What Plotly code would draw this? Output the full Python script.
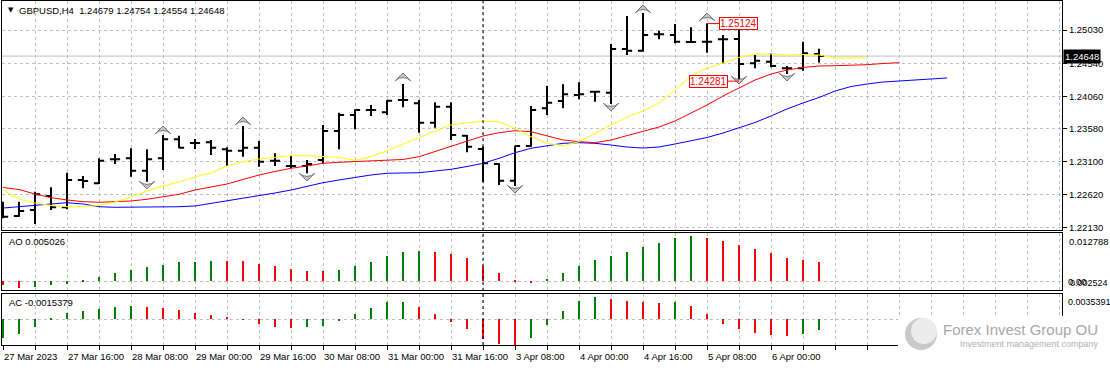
import plotly.graph_objects as go
from plotly.subplots import make_subplots

# ---------------- data ----------------
symbol_title = "GBPUSD,H4"
last_ohlc_text = ["1.24679", "1.24754", "1.24554", "1.24648"]
last_price = 1.24648

bar_open = [1.22393, 1.22305, 1.22393, 1.22598, 1.22433, 1.22832, 1.22784, 1.23136, 1.23150, 1.22969,
            1.23150, 1.23429, 1.23375, 1.23385, 1.23282, 1.23262, 1.23306, 1.23115, 1.23038, 1.23038,
            1.23125, 1.23550, 1.23785, 1.23858, 1.23824, 1.24004, 1.23956, 1.23672, 1.23906, 1.23482,
            1.23287, 1.23067, 1.22822, 1.23331, 1.23883, 1.23990, 1.24078, 1.24126, 1.24111, 1.24752,
            1.24727, 1.24967, 1.24957, 1.24855, 1.24859, 1.24894, 1.24898, 1.24542, 1.24566, 1.24469,
            1.24469, 1.24679]
bar_high = [1.22515, 1.22515, 1.22661, 1.22726, 1.22939, 1.22891, 1.23150, 1.23213, 1.23297, 1.23282,
            1.23492, 1.23480, 1.23433, 1.23418, 1.23312, 1.23624, 1.23404, 1.23224, 1.23184, 1.23125,
            1.23638, 1.23818, 1.23868, 1.23931, 1.24000, 1.24239, 1.24004, 1.23971, 1.23971, 1.23492,
            1.23320, 1.23077, 1.23335, 1.23917, 1.24210, 1.24235, 1.24264, 1.24141, 1.24825, 1.25235,
            1.25279, 1.25020, 1.25118, 1.25070, 1.25124, 1.24957, 1.25070, 1.24664, 1.24689, 1.24503,
            1.24859, 1.24754]
bar_low = [1.22271, 1.22295, 1.22188, 1.22393, 1.22403, 1.22711, 1.22774, 1.23067, 1.22881, 1.22808,
           1.22979, 1.23297, 1.23287, 1.23199, 1.23038, 1.23174, 1.23027, 1.23038, 1.23004, 1.22931,
           1.23077, 1.23282, 1.23575, 1.23770, 1.23785, 1.23898, 1.23525, 1.23599, 1.23418, 1.23238,
           1.22808, 1.22759, 1.22745, 1.23320, 1.23785, 1.23883, 1.24015, 1.23980, 1.23946, 1.24664,
           1.24712, 1.24894, 1.24835, 1.24845, 1.24697, 1.24542, 1.24281, 1.24469, 1.24484, 1.24385,
           1.24434, 1.24554]
bar_close = [1.22295, 1.22378, 1.22623, 1.22433, 1.22832, 1.22818, 1.23115, 1.23136, 1.22969, 1.23136,
             1.23429, 1.23306, 1.23375, 1.23306, 1.23262, 1.23306, 1.23101, 1.23115, 1.23038, 1.23067,
             1.23550, 1.23785, 1.23858, 1.23858, 1.23994, 1.24004, 1.23672, 1.23906, 1.23492, 1.23320,
             1.23077, 1.22822, 1.23331, 1.23858, 1.23965, 1.24088, 1.24088, 1.24126, 1.24752, 1.24727,
             1.24957, 1.24967, 1.24859, 1.24855, 1.24859, 1.24894, 1.24532, 1.24580, 1.24503, 1.24469,
             1.24689, 1.24648]

# Alligator lines (shifted forward, so longer than the price series)
alligator_lips = [1.22686, 1.22554, 1.22496, 1.22459, 1.22441, 1.22444, 1.22459, 1.22510, 1.22583, 1.22671,
                  1.22745, 1.22803, 1.22877, 1.22935, 1.23038, 1.23101, 1.23140, 1.23165, 1.23189, 1.23189,
                  1.23174, 1.23165, 1.23120, 1.23174, 1.23262, 1.23360, 1.23448, 1.23550, 1.23638, 1.23672,
                  1.23692, 1.23687, 1.23590, 1.23467, 1.23370, 1.23335, 1.23394, 1.23521, 1.23638, 1.23755,
                  1.23843, 1.23961, 1.24151, 1.24356, 1.24473, 1.24547, 1.24627, 1.24678, 1.24678, 1.24664,
                  1.24671, 1.24664, 1.24620, 1.24620, 1.24620]
alligator_teeth = [1.22723, 1.22693, 1.22627, 1.22573, 1.22540, 1.22515, 1.22506, 1.22515, 1.22525, 1.22550,
                   1.22588, 1.22623, 1.22686, 1.22730, 1.22774, 1.22840, 1.22906, 1.22957, 1.23004, 1.23038,
                   1.23077, 1.23092, 1.23101, 1.23108, 1.23115, 1.23133, 1.23174, 1.23250, 1.23320, 1.23397,
                   1.23477, 1.23525, 1.23555, 1.23540, 1.23477, 1.23419, 1.23394, 1.23379, 1.23419, 1.23484,
                   1.23550, 1.23609, 1.23697, 1.23814, 1.23931, 1.24063, 1.24180, 1.24297, 1.24385, 1.24444,
                   1.24481, 1.24503, 1.24507, 1.24513, 1.24522, 1.24539, 1.24551]
alligator_jaw = [1.22422, 1.22444, 1.22467, 1.22481, 1.22500, 1.22481, 1.22441, 1.22433, 1.22433, 1.22433,
                 1.22433, 1.22441, 1.22452, 1.22488, 1.22532, 1.22569, 1.22598, 1.22642, 1.22686, 1.22745,
                 1.22793, 1.22833, 1.22872, 1.22906, 1.22931, 1.22939, 1.22939, 1.22964, 1.22989, 1.23030,
                 1.23077, 1.23150, 1.23232, 1.23297, 1.23335, 1.23370, 1.23379, 1.23370, 1.23345, 1.23316,
                 1.23301, 1.23316, 1.23360, 1.23404, 1.23455, 1.23521, 1.23594, 1.23675, 1.23770, 1.23873,
                 1.23961, 1.24041, 1.24136, 1.24202, 1.24239, 1.24268, 1.24283, 1.24297, 1.24312, 1.24327]

# Fractals
fractal_up_idx = [10, 15, 25, 40, 44]
fractal_up_price = [1.23624, 1.23755, 1.24400, 1.25396, 1.25279]
fractal_dn_idx = [9, 19, 32, 38, 46, 49]
fractal_dn_price = [1.22701, 1.22818, 1.22642, 1.23843, 1.24239, 1.24283]

# price labels (high / low markers)
marker_label_idx = [44, 46]
marker_label_price = [1.25124, 1.24281]
marker_label_side = [1, -1]

# Awesome Oscillator
ao_values = [-0.0011, -0.0018, -0.0016, -0.0011, -0.0006, 0.0004, 0.00119, 0.00232, 0.00304, 0.00383,
             0.00436, 0.00515, 0.00523, 0.00549, 0.00545, 0.00541, 0.00470, 0.00417, 0.00338, 0.00285,
             0.00277, 0.00312, 0.00409, 0.00502, 0.00660, 0.00766, 0.00792, 0.00766, 0.00713, 0.00607,
             0.00396, 0.00211, 0.00026, -0.00044, 0.00053, 0.00211, 0.00396, 0.00554, 0.00660, 0.00766,
             0.00898, 0.01003, 0.01135, 0.01188, 0.01135, 0.01056, 0.00950, 0.00845, 0.00739, 0.00607,
             0.00554, 0.005026]
ao_first_up = False
# Accelerator Oscillator
ac_values = [-0.00269, -0.00212, -0.00103, 0.0001, 0.00089, 0.00118, 0.00146, 0.00174, 0.00188, 0.00174,
             0.00160, 0.00132, 0.00089, 0.00061, 0.00033, -0.00006, -0.00067, -0.00103, -0.00123, -0.00103,
             -0.00089, -0.00024, 0.00075, 0.00156, 0.00241, 0.00245, 0.00170, 0.00071, -0.00042, -0.00142,
             -0.00283, -0.00354, -0.00375, -0.00269, -0.00085, 0.00113, 0.00255, 0.00312, 0.00283, 0.00255,
             0.00241, 0.00227, 0.00241, 0.00184, 0.00071, -0.00071, -0.00142, -0.00198, -0.00227, -0.00241,
             -0.00212, -0.0015379]
ac_first_up = True

price_ticks = [1.22130, 1.22620, 1.23100, 1.23580, 1.24060, 1.24540, 1.25030]
ao_scale_labels = ["0.012788", "0.00", "0.002524"]
ac_scale_labels = ["0.0035391"]
ao_text = "AO 0.005026"
ac_text = "AC -0.0015379"

time_label_idx = [0, 4, 8, 12, 16, 20, 24, 28, 32, 36, 40, 44, 48]
time_labels = ["27 Mar 2023", "27 Mar 16:00", "28 Mar 08:00", "29 Mar 00:00", "29 Mar 16:00",
               "30 Mar 08:00", "31 Mar 00:00", "31 Mar 16:00", "3 Apr 08:00", "4 Apr 00:00",
               "4 Apr 16:00", "5 Apr 08:00", "6 Apr 00:00"]
week_start_idx = 30

# ---------------- figure ----------------
FONT = "Liberation Sans"
GREEN = "#008000"
RED = "#ff0000"

idx = list(range(len(bar_open)))


def osc_colors(vals, first_up):
    cols = [GREEN if first_up else RED]
    for i in range(1, len(vals)):
        cols.append(GREEN if vals[i] > vals[i - 1] else RED)
    return cols


fig = make_subplots(rows=3, cols=1, shared_xaxes=True, vertical_spacing=0.01)

fig.add_trace(go.Scatter(x=list(range(len(alligator_jaw))), y=alligator_jaw, mode="lines",
                         line=dict(color="#0000ff", width=1), hoverinfo="skip"), row=1, col=1)
fig.add_trace(go.Scatter(x=list(range(len(alligator_teeth))), y=alligator_teeth, mode="lines",
                         line=dict(color="#ff0000", width=1), hoverinfo="skip"), row=1, col=1)
fig.add_trace(go.Scatter(x=list(range(len(alligator_lips))), y=alligator_lips, mode="lines",
                         line=dict(color="#ffff00", width=1), hoverinfo="skip"), row=1, col=1)

fig.add_trace(go.Ohlc(x=idx, open=bar_open, high=bar_high, low=bar_low, close=bar_close,
                      increasing=dict(line=dict(color="black", width=2)),
                      decreasing=dict(line=dict(color="black", width=2)),
                      tickwidth=0.32, hoverinfo="skip"), row=1, col=1)

fig.add_trace(go.Scatter(x=fractal_up_idx, y=fractal_up_price, mode="markers",
                         marker=dict(symbol="arrow-wide", angle=0, size=11, color="#c4c4c4",
                                     line=dict(color="#6f7680", width=1)), hoverinfo="skip"), row=1, col=1)
fig.add_trace(go.Scatter(x=fractal_dn_idx, y=fractal_dn_price, mode="markers",
                         marker=dict(symbol="arrow-wide", angle=180, size=11, color="#c4c4c4",
                                     line=dict(color="#6f7680", width=1)), hoverinfo="skip"), row=1, col=1)

fig.add_trace(go.Bar(x=idx, y=ao_values, width=0.13,
                     marker=dict(color=osc_colors(ao_values, ao_first_up), line=dict(width=0)),
                     hoverinfo="skip"), row=2, col=1)
fig.add_trace(go.Bar(x=idx, y=ac_values, width=0.13,
                     marker=dict(color=osc_colors(ac_values, ac_first_up), line=dict(width=0)),
                     hoverinfo="skip"), row=3, col=1)

# plot-area pixel geometry
W, H = 1110, 368
PL, PR, PT, PB = 2, 1062, 1, 345


def px_x(px):
    return (px - PL) / (PR - PL)


def px_y(py):
    return (PB - py) / (PB - PT)


fig.update_layout(
    width=W, height=H,
    margin=dict(l=PL, r=W - PR, t=PT, b=H - PB),
    paper_bgcolor="white", plot_bgcolor="white",
    showlegend=False, bargap=0,
    font=dict(family=FONT, size=9.5, color="black"),
)

x_range = [(PL - 3) / 16, (PR - 3) / 16]
grid_vals = list(range(0, 68, 2))
for name in ["xaxis", "xaxis2", "xaxis3"]:
    fig.layout[name].update(range=x_range, tickmode="array", tickvals=grid_vals, showticklabels=False,
                            showgrid=True, gridcolor="#c0c0c0", griddash="3px,3px", gridwidth=1,
                            showline=True, mirror=True, linecolor="black", linewidth=1,
                            zeroline=False, ticks="", rangeslider=dict(visible=False))
fig.layout.xaxis3.update(ticks="outside", ticklen=4, tickcolor="black", tickwidth=1)

fig.layout.yaxis.update(domain=[px_y(230), 1.0], range=[1.22100, 1.25455], side="right",
                        tickmode="array", tickvals=price_ticks, tickformat=".5f",
                        ticks="outside", ticklen=4, tickcolor="black",
                        showgrid=True, gridcolor="#c0c0c0", griddash="3px,3px",
                        showline=True, mirror=True, linecolor="black", zeroline=False,
                        tickfont=dict(family=FONT, size=9.5))
fig.layout.yaxis2.update(domain=[px_y(290), px_y(233)], range=[-0.0023, 0.01278], side="right",
                         tickmode="array", tickvals=[0], showticklabels=False, ticks="",
                         showgrid=True, gridcolor="#c0c0c0", griddash="3px,3px",
                         showline=True, mirror=True, linecolor="black", zeroline=False)
fig.layout.yaxis3.update(domain=[0.0, px_y(294)], range=[-0.00364, 0.00358], side="right",
                         tickmode="array", tickvals=[0], showticklabels=False, ticks="",
                         showgrid=True, gridcolor="#c0c0c0", griddash="3px,3px",
                         showline=True, mirror=True, linecolor="black", zeroline=False)

shapes = []
# current price line
shapes.append(dict(type="line", xref="x domain", x0=0, x1=1, yref="y", y0=last_price, y1=last_price,
                   line=dict(color="#c0c0c0", width=1), layer="below"))
# period separator
shapes.append(dict(type="line", xref="x", x0=week_start_idx, x1=week_start_idx, yref="paper", y0=0, y1=1,
                   line=dict(color="black", width=1, dash="3px,3px")))
# watermark background + logo
shapes.append(dict(type="rect", xref="paper", yref="paper", x0=px_x(898), x1=px_x(1100),
                   y0=px_y(360), y1=px_y(316), fillcolor="white", line=dict(width=0), layer="above"))
shapes.append(dict(type="circle", xref="paper", yref="paper", x0=px_x(905), x1=px_x(937),
                   y0=px_y(350), y1=px_y(318), fillcolor="#c9c9c9", line=dict(width=0), layer="above"))
shapes.append(dict(type="circle", xref="paper", yref="paper", x0=px_x(911), x1=px_x(937),
                   y0=px_y(344), y1=px_y(318), fillcolor="#ececec", line=dict(width=0), layer="above"))
fig.update_layout(shapes=shapes)

ann = []
# header
ann.append(dict(xref="paper", yref="paper", x=px_x(6), y=px_y(10), xanchor="left", yanchor="middle",
                text="▼", showarrow=False, font=dict(size=7, color="black", family="DejaVu Sans")))
ann.append(dict(xref="paper", yref="paper", x=px_x(17), y=px_y(10), xanchor="left", yanchor="middle",
                text=symbol_title + "\u00a0\u00a0" + " ".join(last_ohlc_text), showarrow=False,
                font=dict(size=9.5, color="black", family=FONT)))
# current price box
ann.append(dict(xref="paper", yref="y", x=1, y=last_price, xanchor="left", yanchor="middle", xshift=1,
                text=f"{last_price:.5f}", showarrow=False, bgcolor="black", borderpad=1,
                font=dict(size=9.5, color="white", family=FONT)))
# high/low price labels
for i, p, s in zip(marker_label_idx, marker_label_price, marker_label_side):
    ann.append(dict(x=i, y=p, xref="x", yref="y", text=f"{p:.5f}", showarrow=True, arrowhead=0,
                    arrowwidth=1, arrowcolor="red", ax=31 * s, ay=0, bgcolor="white", bordercolor="red",
                    borderwidth=1, borderpad=0, font=dict(size=10, color="red", family=FONT)))
# oscillator titles
ann.append(dict(xref="paper", yref="y2 domain", x=px_x(7), y=1, xanchor="left", yanchor="top", yshift=-1,
                text=ao_text, showarrow=False, font=dict(size=9.5, color="black", family=FONT)))
ann.append(dict(xref="paper", yref="y3 domain", x=px_x(7), y=1, xanchor="left", yanchor="top", yshift=-1,
                text=ac_text, showarrow=False, font=dict(size=9.5, color="black", family=FONT)))
# oscillator scale labels
ann.append(dict(xref="paper", yref="y2 domain", x=1, y=1, xanchor="left", yanchor="top", xshift=5, yshift=-1,
                text=ao_scale_labels[0], showarrow=False, font=dict(size=9.5, color="black", family=FONT)))
ann.append(dict(xref="paper", yref="y2", x=1, y=0, xanchor="left", yanchor="middle", xshift=4,
                text=ao_scale_labels[1], showarrow=False, font=dict(size=9.5, color="black", family=FONT)))
ann.append(dict(xref="paper", yref="y2 domain", x=1, y=0, xanchor="left", yanchor="bottom", xshift=6,
                text=ao_scale_labels[2], showarrow=False, font=dict(size=9, color="black", family=FONT)))
ann.append(dict(xref="paper", yref="y3 domain", x=1, y=1, xanchor="left", yanchor="top", xshift=4, yshift=-1,
                text=ac_scale_labels[0], showarrow=False, font=dict(size=9, color="black", family=FONT)))
# time labels (left aligned at their tick)
for i, t in zip(time_label_idx, time_labels):
    ann.append(dict(x=i, xref="x3", y=0, yref="paper", xanchor="left", yanchor="top", yshift=-4, xshift=-1,
                    text=t, showarrow=False, font=dict(size=9.5, color="black", family=FONT)))
# watermark
ann.append(dict(xref="paper", yref="paper", x=px_x(941), y=px_y(329), xanchor="left", yanchor="middle",
                text="Forex Invest Group OU", showarrow=False,
                font=dict(size=15, color="#a8a8a8", family=FONT)))
ann.append(dict(xref="paper", yref="paper", x=px_x(958), y=px_y(344), xanchor="left", yanchor="middle",
                text="Investment management company", showarrow=False,
                font=dict(size=9, color="#b0b0b0", family=FONT)))
fig.update_layout(annotations=ann)

fig.write_html("out.html", config={"displayModeBar": False},
               post_script="document.body.style.margin='0';document.body.style.padding='0';")
